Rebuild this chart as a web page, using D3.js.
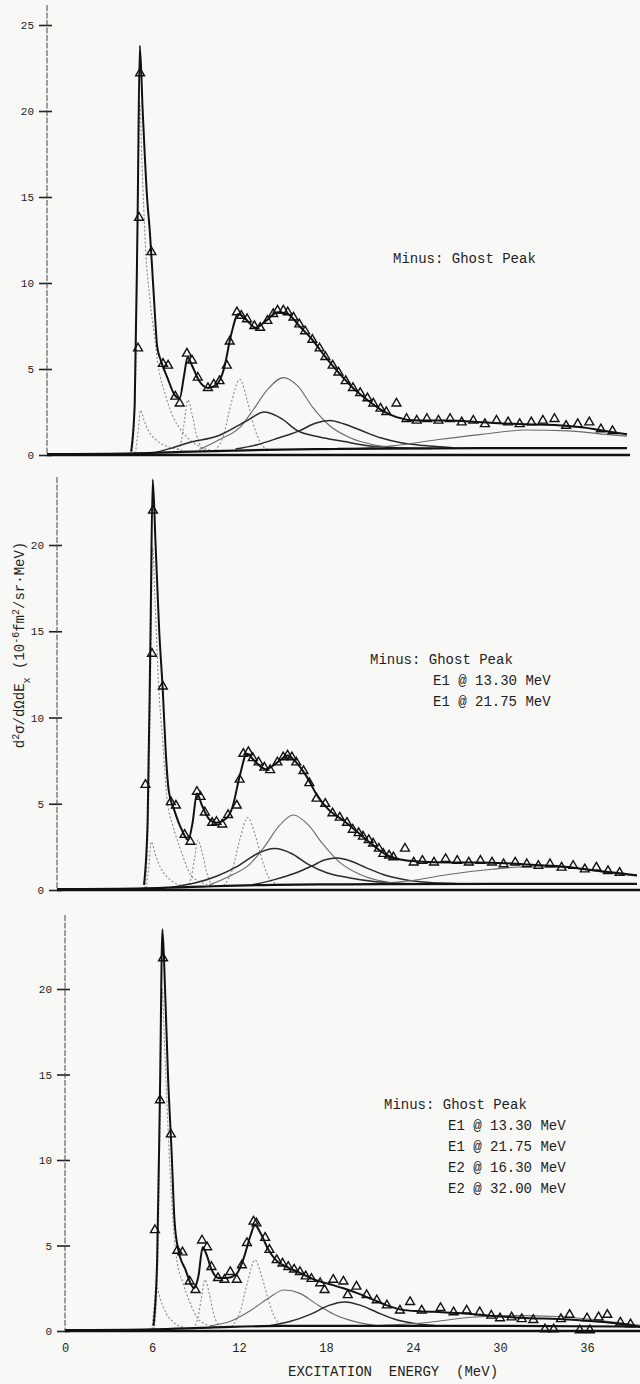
<!DOCTYPE html>
<html><head><meta charset="utf-8">
<script src="https://cdn.jsdelivr.net/npm/d3@7"></script>
<style>
html,body{margin:0;padding:0;background:#f8f8f6;}
svg{display:block;}
text{font-family:"Liberation Mono","DejaVu Sans Mono",monospace;fill:#1e1e1e;}
</style></head>
<body>
<svg id="chart" width="640" height="1384"></svg>
<script>
// ---------------- DATA ----------------
const xTickLabels = [0, 6, 12, 18, 24, 30, 36];
const yTicksTop = [0, 5, 10, 15, 20, 25];
const yTicksLower = [0, 5, 10, 15, 20];
const xTitle = "EXCITATION  ENERGY  (MeV)";
const notes1 = ["Minus: Ghost Peak"];
const notes2 = ["Minus: Ghost Peak", "E1 @ 13.30 MeV", "E1 @ 21.75 MeV"];
const notes3 = ["Minus: Ghost Peak", "E1 @ 13.30 MeV", "E1 @ 21.75 MeV", "E2 @ 16.30 MeV", "E2 @ 32.00 MeV"];

// Panel 1 (top)
const pts1 = [[6.28,6.2],[6.35,13.8],[6.42,22.2],[7.2,11.8],[8.0,5.3],[8.35,5.2],[8.85,3.4],[9.15,3.0],[9.65,5.9],[10.0,5.5],[10.4,4.5],[11.1,3.9],[11.5,4.1],[11.9,4.3],[12.4,5.2],[12.6,6.6],[13.1,8.3],[13.4,8.1],[13.8,7.9],[14.3,7.5],[14.7,7.4],[15.2,7.8],[15.6,8.2],[15.9,8.4],[16.3,8.4],[16.6,8.3],[17.0,8.0],[17.4,7.6],[17.8,7.2],[18.3,6.7],[18.8,6.2],[19.2,5.7],[19.7,5.2],[20.1,4.8],[20.6,4.3],[21.1,3.9],[21.6,3.6],[22.1,3.3],[22.5,3.0],[23.0,2.7],[23.4,2.5],[24.1,3.0],[24.8,2.1],[25.5,2.0],[26.2,2.1],[27.0,2.0],[27.8,2.1],[28.6,1.9],[29.4,2.0],[30.2,1.8],[31.0,2.0],[31.8,1.9],[32.6,1.8],[33.4,1.9],[34.2,2.0],[35.0,2.1],[35.8,1.7],[36.6,1.8],[37.4,1.9],[38.2,1.5],[39.0,1.4]];
const fit1 = [[5.8,0.2],[6.05,3],[6.25,14],[6.4,23.8],[6.6,20],[6.9,15],[7.1,12.9],[7.35,9.5],[7.6,6.3],[7.85,5.5],[8.3,4.5],[8.8,3.5],[9.15,3.3],[9.45,4.6],[9.7,5.7],[10.0,5.2],[10.5,4.3],[11.1,3.9],[11.7,4.1],[12.2,5.0],[12.7,7.0],[13.2,8.2],[13.7,7.9],[14.4,7.4],[15.1,7.8],[15.9,8.3],[16.6,8.2],[17.4,7.5],[18.3,6.7],[19.2,5.7],[20.1,4.8],[21.1,3.9],[22.1,3.2],[23.1,2.6],[24.1,2.2],[25.5,2.0],[27.5,2.0],[30,1.9],[32.5,1.8],[35,1.75],[37,1.6],[38.5,1.4],[40,1.2]];
const base1 = [[0,0.05],[6,0.1],[10,0.2],[15,0.3],[20,0.35],[30,0.4],[40,0.4]];
const c1Main = [[5.85,0],[6.1,4],[6.28,15],[6.4,20.5],[6.55,17],[6.8,12],[7.1,9],[7.4,7],[7.65,5.3],[8.2,3.4],[8.7,2.2],[9.2,1.5],[9.7,1.0],[10.5,0.5],[11.5,0.25]];
const c1Small = [[6.1,0.1],[6.3,1.5],[6.45,2.6],[6.7,2.0],[7.0,1.4],[7.5,0.9],[8.0,0.6],[8.7,0.4],[9.5,0.25]];
const c1P97 = [[8.8,0.15],[9.2,0.6],[9.45,1.8],[9.72,3.2],[10.0,2.4],[10.3,1.2],[10.6,0.5],[11.0,0.2]];
const c1P133 = [[11.6,0.25],[12.2,1.2],[12.7,3.0],[13.3,4.4],[13.8,3.2],[14.3,1.6],[14.8,0.6],[15.3,0.3]];
const c1Broad = [[10.5,0.3],[11.9,0.9],[13.3,1.6],[14.2,2.6],[15.2,3.8],[16.3,4.5],[17.3,4.0],[18.3,2.8],[19.5,1.7],[20.9,1.0],[22.5,0.6],[24,0.45],[26,0.38]];
const c1Mid = [[7.5,0.15],[8.6,0.4],[9.7,0.7],[11.9,1.15],[13.8,2.0],[15.0,2.5],[16.2,2.1],[17.2,1.45],[18.8,1.05],[20.4,0.8],[22,0.55],[24,0.42],[26.5,0.38]];
const c1P195 = [[13,0.35],[14.5,0.6],[16,1.0],[17.4,1.4],[18.5,1.85],[19.5,2.0],[20.5,1.8],[21.6,1.45],[23,1.0],[24.5,0.7],[26,0.55],[28,0.42]];
const c1High = [[21,0.36],[24.5,0.6],[27,0.9],[30,1.2],[33,1.45],[36,1.4],[38.5,1.2],[40,1.1]];

// Panel 2 (middle)
const pts2 = [[6.1,6.1],[6.55,13.7],[6.62,22.0],[7.3,11.8],[7.85,5.1],[8.2,4.9],[8.8,3.2],[9.2,2.8],[9.65,5.7],[9.9,5.4],[10.2,4.5],[10.7,3.9],[11.0,3.95],[11.4,3.8],[11.8,4.35],[12.4,4.9],[12.6,6.4],[12.85,7.9],[13.2,8.0],[13.5,7.65],[13.9,7.4],[14.3,7.1],[14.7,6.95],[15.2,7.4],[15.6,7.7],[15.9,7.8],[16.2,7.7],[16.5,7.4],[17.0,6.9],[17.4,6.2],[17.9,5.3],[18.5,5.0],[19.0,4.45],[19.5,4.2],[20.0,3.9],[20.4,3.5],[20.8,3.3],[21.1,3.1],[21.5,2.9],[21.8,2.7],[22.2,2.4],[22.5,2.1],[22.9,2.0],[23.2,1.9],[24.0,2.4],[24.6,1.6],[25.2,1.7],[26.0,1.6],[26.8,1.8],[27.6,1.7],[28.4,1.6],[29.2,1.7],[30.0,1.6],[30.8,1.5],[31.6,1.6],[32.4,1.5],[33.2,1.4],[34.0,1.5],[34.8,1.3],[35.6,1.4],[36.4,1.2],[37.2,1.3],[38.0,1.1],[38.8,1.0]];
const fit2 = [[6.0,0.3],[6.25,4],[6.45,15],[6.6,23.8],[6.8,20],[7.05,15],[7.3,11.5],[7.5,8],[7.7,5.8],[8.1,4.6],[8.6,3.5],[9.05,2.9],[9.35,3.9],[9.65,5.6],[10.0,4.9],[10.5,4.1],[11.0,3.9],[11.6,4.1],[12.1,4.8],[12.6,6.6],[13.1,7.9],[13.6,7.5],[14.4,7.0],[15.2,7.4],[15.9,7.8],[16.5,7.4],[17.2,6.6],[18.0,5.4],[18.8,4.6],[19.8,4.0],[20.8,3.3],[21.8,2.6],[22.8,2.0],[23.8,1.75],[25,1.65],[27,1.6],[29,1.6],[31,1.55],[33,1.45],[35,1.35],[37,1.15],[39,0.95],[40,0.85]];
const base2 = [[0,0.05],[6,0.1],[10,0.2],[15,0.3],[20,0.33],[30,0.36],[40,0.36]];
const c2Main = [[6.05,0.1],[6.3,4],[6.5,15],[6.6,19.9],[6.75,17],[7.0,12],[7.3,8.5],[7.6,5.2],[8.0,3.7],[8.5,2.4],[9.2,0.9],[9.8,0.5],[10.7,0.25]];
const c2Small = [[6.15,0.1],[6.35,1.5],[6.5,2.8],[6.8,2.0],[7.2,1.2],[7.8,0.6],[8.6,0.25]];
const c2P97 = [[8.9,0.15],[9.25,0.7],[9.5,1.9],[9.72,2.9],[10.0,2.2],[10.3,1.1],[10.6,0.4],[11.0,0.2]];
const c2P131 = [[11.5,0.25],[12.1,1.2],[12.6,2.9],[13.15,4.2],[13.7,3.1],[14.2,1.6],[14.7,0.6],[15.3,0.3]];
const c2Broad = [[10.5,0.3],[11.9,0.8],[13.3,1.5],[14.3,2.5],[15.3,3.7],[16.3,4.35],[17.3,3.8],[18.3,2.7],[19.5,1.6],[20.9,0.9],[22.5,0.5],[24,0.38]];
const c2Mid = [[7.8,0.15],[9.5,0.4],[11.0,0.8],[12.5,1.4],[13.8,2.1],[15.0,2.4],[16.2,2.1],[17.3,1.5],[18.6,1.0],[20.2,0.7],[22,0.48],[24.5,0.36]];
const c2P193 = [[13.5,0.3],[15,0.6],[16.5,1.0],[17.6,1.4],[18.5,1.75],[19.3,1.85],[20.2,1.7],[21.3,1.3],[22.5,0.9],[24,0.6],[25.5,0.45],[27.5,0.37]];
const c2High = [[21,0.34],[24.5,0.55],[27,0.9],[30,1.2],[32.5,1.35],[35,1.3],[37.5,1.05],[40,0.8]];

// Panel 3 (bottom)
const pts3 = [[6.2,5.9],[6.55,13.5],[6.76,21.8],[7.3,11.5],[7.75,4.7],[8.1,4.6],[8.6,2.9],[9.0,2.4],[9.45,5.3],[9.8,4.9],[10.1,3.75],[10.55,3.1],[11.0,3.0],[11.4,3.45],[11.85,3.0],[12.2,3.85],[12.55,5.15],[13.0,6.4],[13.2,6.3],[13.8,5.45],[14.1,4.75],[14.6,4.15],[15.0,3.95],[15.4,3.75],[15.8,3.6],[16.2,3.45],[16.6,3.2],[17.0,3.05],[17.6,2.8],[17.9,2.4],[18.5,3.0],[19.2,2.9],[19.5,2.1],[20.1,2.6],[20.8,2.1],[21.5,1.8],[22.2,1.5],[23.1,1.2],[23.8,1.7],[24.6,1.2],[25.9,1.35],[26.8,1.1],[27.7,1.2],[28.6,1.1],[29.4,0.9],[30.0,0.75],[30.8,0.8],[31.5,0.7],[32.3,0.65],[33.1,0.1],[33.7,0.1],[34.2,0.7],[34.8,0.95],[35.5,0.05],[36.0,0.75],[36.2,0.05],[36.8,0.8],[37.4,0.95],[38.3,0.5],[39.0,0.4]];
const fit3 = [[6.1,0.3],[6.35,4],[6.55,14],[6.72,23.5],[6.9,20],[7.1,15],[7.35,10.5],[7.55,6.5],[7.8,4.8],[8.3,3.6],[8.9,2.5],[9.2,3.2],[9.5,4.9],[9.75,4.5],[10.1,3.6],[10.6,3.1],[11.2,3.1],[11.8,3.3],[12.3,4.2],[12.8,5.6],[13.1,6.2],[13.5,5.7],[14.0,4.8],[14.6,4.1],[15.3,3.75],[16.2,3.4],[17.2,3.0],[18.2,2.75],[19.2,2.5],[20.2,2.2],[21.2,1.85],[22.2,1.5],[23.2,1.25],[24.5,1.15],[26,1.1],[28,1.0],[30,0.85],[32,0.75],[34,0.7],[36,0.6],[38,0.45],[40,0.2]];
const base3 = [[0,0.05],[6,0.1],[10,0.2],[15,0.3],[20,0.3],[30,0.3],[40,0.25]];
const c3Main = [[6.15,0.1],[6.4,4],[6.6,15],[6.72,20],[6.85,17],[7.1,12],[7.4,7],[7.7,4.2],[8.1,2.9],[8.6,1.7],[9.1,0.8],[9.7,0.4],[10.5,0.22]];
const c3Small = [[6.0,0.1],[6.15,1.5],[6.3,2.6],[6.6,1.8],[7.0,1.0],[7.5,0.5],[8.2,0.2]];
const c3P97 = [[8.8,0.15],[9.15,0.7],[9.4,1.9],[9.65,3.0],[9.95,2.2],[10.25,1.0],[10.55,0.4],[10.9,0.2]];
const c3P131 = [[11.5,0.25],[12.1,1.2],[12.6,2.9],[13.1,4.15],[13.6,3.1],[14.1,1.6],[14.6,0.6],[15.2,0.3]];
const c3Broad = [[10,0.3],[11.5,0.6],[12.8,1.2],[14,1.9],[15.1,2.4],[16.2,2.2],[17.3,1.6],[18.5,1.0],[20,0.55],[21.5,0.32]];
const c3P193 = [[14,0.3],[15.5,0.55],[17,1.0],[18.2,1.5],[19.3,1.7],[20.4,1.5],[21.5,1.1],[22.7,0.7],[24,0.45],[25.5,0.32]];
const c3High = [[21,0.3],[25,0.5],[28,0.8],[31,0.9],[34,0.85],[37,0.6],[40,0.3]];

// ---------------- LAYOUT ----------------
const svg = d3.select("#chart");
svg.append("rect").attr("width",640).attr("height",1384).attr("fill","#f8f8f6");

const styles = {
  dot:   {stroke:"#8a8a8a", width:1.1, dash:"2,2"},
  grey:  {stroke:"#6a6a6a", width:1.1, dash:null},
  dark:  {stroke:"#2a2a2a", width:1.5, dash:null}
};

const panels = [
  {xr:[47,627], yr:[455,25], yd:[0,25], top:5, right:630, ticks:yTicksTop, pts:pts1, fit:fit1, base:base1,
   comps:[[c1Main,"dot"],[c1Small,"dot"],[c1P97,"dot"],[c1P133,"dot"],[c1Broad,"grey"],[c1Mid,"dark"],[c1P195,"dark"],[c1High,"grey"]],
   notes:notes1, nx:393, nx2:393, ny:263},
  {xr:[57,637], yr:[890,545], yd:[0,20], top:477, right:640, ticks:yTicksLower, pts:pts2, fit:fit2, base:base2,
   comps:[[c2Main,"dot"],[c2Small,"dot"],[c2P97,"dot"],[c2P131,"dot"],[c2Broad,"grey"],[c2Mid,"dark"],[c2P193,"dark"],[c2High,"grey"]],
   notes:notes2, nx:370, nx2:433, ny:664},
  {xr:[65,645], yr:[1331,989], yd:[0,20], top:915, right:640, ticks:yTicksLower, pts:pts3, fit:fit3, base:base3,
   comps:[[c3Main,"dot"],[c3Small,"dot"],[c3P97,"dot"],[c3P131,"dot"],[c3Broad,"grey"],[c3P193,"dark"],[c3High,"grey"]],
   notes:notes3, nx:384, nx2:448, ny:1109}
];

const tri = d3.symbol().type(d3.symbolTriangle).size(34);

panels.forEach((p, i) => {
  const x = d3.scaleLinear().domain([0,40]).range(p.xr);
  const y = d3.scaleLinear().domain(p.yd).range(p.yr);
  const g = svg.append("g");
  const clipId = "clip"+i;
  svg.append("clipPath").attr("id",clipId).append("rect")
    .attr("x",p.xr[0]).attr("y",p.top).attr("width",p.right-p.xr[0]).attr("height",p.yr[0]-p.top+4);
  const plot = g.append("g").attr("clip-path","url(#"+clipId+")");
  const line = d3.line().x(d=>x(d[0])).y(d=>y(d[1])).curve(d3.curveMonotoneX);

  p.comps.forEach(([arr, st]) => {
    const s = styles[st];
    plot.append("path").datum(arr).attr("d",line).attr("fill","none")
      .attr("stroke",s.stroke).attr("stroke-width",s.width)
      .attr("stroke-dasharray",s.dash);
  });
  plot.append("path").datum(p.base).attr("d",line).attr("fill","none")
    .attr("stroke","#111").attr("stroke-width",2.2);

  const yAxis = d3.axisLeft(y).tickValues(p.ticks).tickSize(0).tickPadding(13).tickFormat(d3.format("d"));
  const ga = g.append("g").attr("transform","translate("+p.xr[0]+",0)").call(yAxis);
  ga.select(".domain").remove();
  ga.selectAll("text").style("font-family","'Liberation Mono',monospace").style("font-size","11px").attr("fill","#222");
  ga.selectAll(".tick").append("line").attr("x1",-8).attr("x2",5).attr("stroke","#222").attr("stroke-width",1.6);
  g.append("line").attr("x1",p.xr[0]).attr("x2",p.xr[0]).attr("y1",p.top).attr("y2",p.yr[0])
    .attr("stroke","#444").attr("stroke-width",1).attr("stroke-dasharray","6,1.5");
  g.append("line").attr("x1",p.xr[0]).attr("x2",p.right).attr("y1",y(0)).attr("y2",y(0))
    .attr("stroke","#111").attr("stroke-width",2.4);

  plot.append("path").datum(p.fit).attr("d",line).attr("fill","none")
    .attr("stroke","#111").attr("stroke-width",2);
  plot.selectAll("path.pt").data(p.pts).enter().append("path").attr("class","pt")
    .attr("d",tri).attr("transform",d=>"translate("+x(d[0])+","+y(d[1])+")")
    .attr("fill","none").attr("stroke","#111").attr("stroke-width",1.4);

  p.notes.forEach((t, k) => {
    g.append("text").attr("x", k===0 ? p.nx : p.nx2).attr("y", p.ny + k*21)
      .style("font-size","14px").attr("fill","#222").text(t);
  });

  if (i === 2) {
    const xAxis = d3.axisBottom(x).tickValues(xTickLabels).tickSize(0).tickPadding(12).tickFormat(d3.format("d"));
    const gx = g.append("g").attr("transform","translate(0,"+y(0)+")").call(xAxis);
    gx.select(".domain").remove();
    gx.selectAll("text").style("font-family","'Liberation Mono',monospace").style("font-size","12px").attr("fill","#222");
    g.append("text").attr("x",288).attr("y",1376).style("font-size","14px").attr("fill","#222")
      .attr("xml:space","preserve").style("white-space","pre").text(xTitle);
  }
});

const yt = svg.append("text").attr("transform","translate(24,645) rotate(-90)")
  .attr("text-anchor","middle").style("font-size","14px").attr("fill","#222");
yt.append("tspan").text("d");
yt.append("tspan").attr("baseline-shift","super").style("font-size","10px").text("2");
yt.append("tspan").text("σ/dΩdE");
yt.append("tspan").attr("baseline-shift","sub").style("font-size","10px").text("x");
yt.append("tspan").text(" (10");
yt.append("tspan").attr("baseline-shift","super").style("font-size","10px").text("-6");
yt.append("tspan").text("fm");
yt.append("tspan").attr("baseline-shift","super").style("font-size","10px").text("2");
yt.append("tspan").text("/sr·MeV)");
</script>
</body></html>
